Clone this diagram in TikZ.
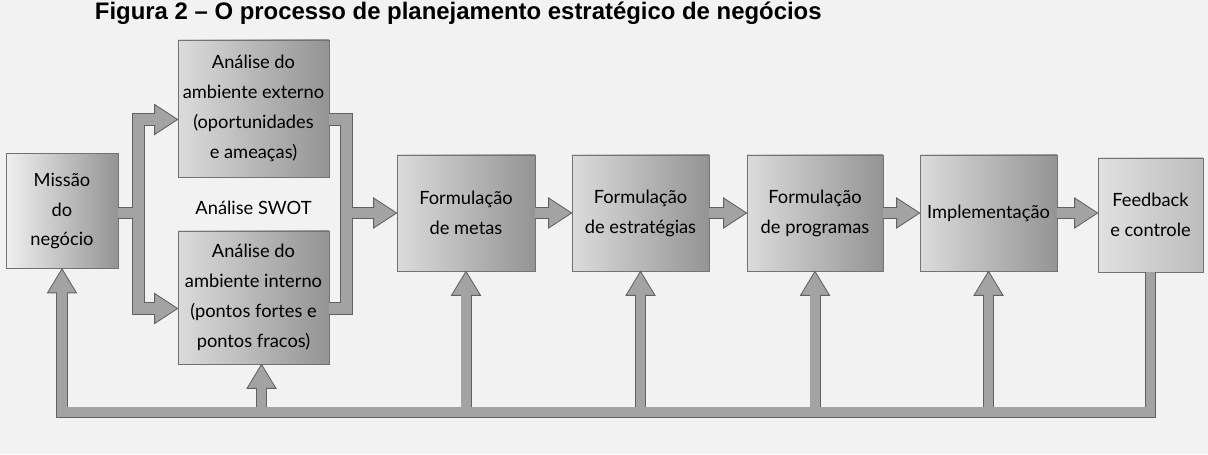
\documentclass[tikz,border=0pt]{standalone}
\usepackage{fontspec}
\setmainfont{Lato}
\newfontfamily\titlefont{Liberation Sans}
\usetikzlibrary{calc}
\newcommand\pontadir[1]{\filldraw[ponta] (#1) -- ++(-23,-15) -- ++(0,30) -- cycle;}
\newcommand\pontacima[1]{\filldraw[ponta] (#1) -- ++(-14.5,24) -- ++(29,0) -- cycle;}
\tikzset{
	etapa/.style={draw=black!55, line width=0.5pt, left color=black!14, right color=black!42, inner sep=0pt, align=center, font=\fontsize{13}{21.3}\selectfont},
	hasteout/.style={draw=black!62, line width=0.3125cm, line cap=butt, line join=miter},
	hastein/.style={draw=black!36, line width=0.27cm, line cap=butt, line join=miter},
	retout/.style={draw=black!62, line width=0.275cm, line cap=butt, line join=miter},
	retin/.style={draw=black!36, line width=0.233cm, line cap=butt, line join=miter},
	ponta/.style={fill=black!36, draw=black!62, line width=0.6pt, line join=miter},
}

\begin{document}
\begin{tikzpicture}[x=0.025cm, y=-0.025cm]
		%%%%% START %%%%%
		\useasboundingbox[fill=black!5] (0,0) rectangle (1208,454);
		
		\node[anchor=base west, font=\titlefont\bfseries\fontsize{17}{20}\selectfont] (titulo) at (90,19) {Figura 2 – O processo de planejamento estratégico de negócios};
		
		\node[etapa, minimum width=2.8cm, minimum height=2.875cm, left color=black!6] (missao) at (62,211) {Missão\\do\\negócio};
		\node[etapa, minimum width=3.775cm, minimum height=3.425cm] (ext) at (253.5,108.5) {Análise do\\ambiente externo\\(oportunidades\\e ameaças)};
		\node[etapa, minimum width=3.775cm, minimum height=3.325cm] (int) at (253.5,297.5) {Análise do\\ambiente interno\\(pontos fortes e\\pontos fracos)};
		\node[font=\fontsize{13}{21.3}\selectfont] (swot) at (253.5,208) {Análise SWOT};
		
		\node[etapa, minimum width=3.45cm, minimum height=2.9cm] (metas) at (466,213) {Formulação\\de metas};
		\node[etapa, minimum width=3.425cm, minimum height=2.9cm] (estr) at (640.5,213) {Formulação\\de estratégias};
		\node[etapa, minimum width=3.4cm, minimum height=2.9cm] (prog) at (815,213) {Formulação\\de programas};
		\node[etapa, minimum width=3.425cm, minimum height=2.9cm] (impl) at (988.5,213) {Implementação};
		\node[etapa, minimum width=2.625cm, minimum height=2.85cm, left color=black!12, right color=black!26] (feed) at (1150.5,215) {Feedback\\e controle};
		
		\coordinate (bje) at (138.5,0);
		\coordinate (bjd) at (346.5,0);
		\coordinate (fb) at (0,412);
		\coordinate (ea) at ($(ext.west)+(0,11)$);
		\coordinate (ia) at ($(int.west)+(0,11)$);
		\coordinate (eb) at ($(ext.east)+(0,11)$);
		\coordinate (ib) at ($(int.east)+(0,11)$);
		\coordinate (is) at ($(int.south)+(8,0)$);
		
		% contornos
		\draw[hasteout] (missao.east |- metas) -- (bje |- metas);
		\draw[hasteout] ($(ea)+(-23,0)$) -- (bje |- ea) -- (bje |- ia) -- ($(ia)+(-23,0)$);
		\draw[hasteout] (eb) -- (bjd |- eb) -- (bjd |- ib) -- (ib);
		\draw[hasteout] (bjd |- metas) -- ($(metas.west)+(-23,0)$);
		\draw[hasteout] (metas.east) -- ($(estr.west)+(-23,0)$);
		\draw[hasteout] (estr.east) -- ($(prog.west)+(-23,0)$);
		\draw[hasteout] (prog.east) -- ($(impl.west)+(-23,0)$);
		\draw[hasteout] (impl.east) -- ($(feed.west |- impl)+(-23,0)$);
		\draw[retout] (feed.south) -- (feed.south |- fb) -- (missao.south |- fb) -- ($(missao.south)+(0,24)$);
		\foreach \n in {is, metas.south, estr.south, prog.south, impl.south}
			\draw[retout] (\n |- fb) -- ($(\n)+(0,24)$);
		
		% pontas
		\pontadir{ea}
		\pontadir{ia}
		\pontadir{metas.west}
		\pontadir{estr.west}
		\pontadir{prog.west}
		\pontadir{impl.west}
		\pontadir{feed.west |- impl}
		\foreach \n in {missao.south, is, metas.south, estr.south, prog.south, impl.south}
			{\pontacima{\n}}
		
		% preenchimento
		\draw[hastein] (missao.east |- metas) -- (bje |- metas);
		\draw[hastein] ($(ea)+(-22,0)$) -- (bje |- ea) -- (bje |- ia) -- ($(ia)+(-22,0)$);
		\draw[hastein] (eb) -- (bjd |- eb) -- (bjd |- ib) -- (ib);
		\draw[hastein] (bjd |- metas) -- ($(metas.west)+(-22,0)$);
		\draw[hastein] (metas.east) -- ($(estr.west)+(-22,0)$);
		\draw[hastein] (estr.east) -- ($(prog.west)+(-22,0)$);
		\draw[hastein] (prog.east) -- ($(impl.west)+(-22,0)$);
		\draw[hastein] (impl.east) -- ($(feed.west |- impl)+(-22,0)$);
		\draw[retin] (feed.south) -- (feed.south |- fb) -- (missao.south |- fb) -- ($(missao.south)+(0,23)$);
		\foreach \n in {is, metas.south, estr.south, prog.south, impl.south}
			\draw[retin] (\n |- fb) -- ($(\n)+(0,23)$);
		
		%%%%% END %%%%%
	\end{tikzpicture}
\end{document}
